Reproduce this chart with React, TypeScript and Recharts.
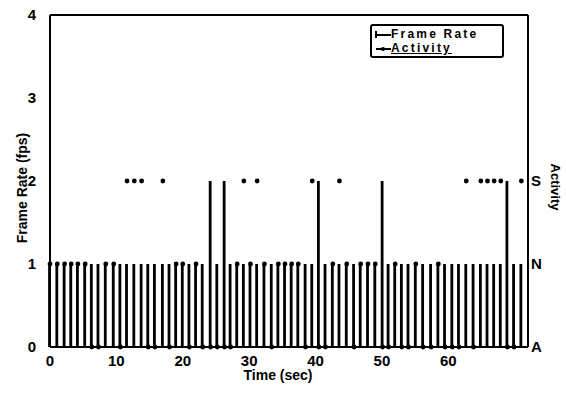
import React from "react";
import { ComposedChart, Bar, Scatter, XAxis, YAxis, Legend, ReferenceLine } from "recharts";

// time of each received frame (sec)
const frameTimes = [
  0.0, 1.1, 2.2, 3.2, 4.2, 5.3, 6.3, 7.3, 8.4, 9.6,
  10.6, 11.6, 12.7, 13.8, 14.8, 15.8, 17.0, 18.0, 19.0, 20.0,
  21.0, 22.0, 23.0, 24.2, 25.2, 26.3, 27.2, 28.2, 29.2, 30.2,
  31.2, 32.3, 33.4, 34.4, 35.4, 36.4, 37.4, 38.5, 39.5, 40.5,
  41.5, 42.6, 43.6, 44.7, 45.8, 46.8, 47.9, 49.0, 50.1, 51.0,
  52.0, 53.0, 54.0, 55.1, 56.2, 57.4, 58.5, 59.5, 60.6, 61.6,
  62.7, 63.8, 64.9, 65.9, 66.9, 67.9, 68.9, 69.9, 71.0,
];

// frame rate (fps) at each frame
const frameRates = [
  1, 1, 1, 1, 1, 1, 1, 1, 1, 1,
  1, 1, 1, 1, 1, 1, 1, 1, 1, 1,
  1, 1, 1, 2, 1, 2, 1, 1, 1, 1,
  1, 1, 1, 1, 1, 1, 1, 1, 1, 2,
  1, 1, 1, 1, 1, 1, 1, 1, 2, 1,
  1, 1, 1, 1, 1, 1, 1, 1, 1, 1,
  1, 1, 1, 1, 1, 1, 2, 1, 1,
];

// detected activity at each frame
const activity = [
  "N", "N", "N", "N", "N", "N", "A", "A", "N", "N",
  "A", "S", "S", "S", "A", "A", "S", "A", "N", "N",
  "A", "N", "A", "A", "A", "A", "A", "N", "S", "N",
  "S", "N", "A", "N", "N", "N", "N", "A", "S", "A",
  "A", "N", "S", "N", "A", "N", "N", "N", "A", "A",
  "N", "A", "A", "N", "A", "A", "N", "A", "A", "A",
  "S", "A", "S", "S", "S", "S", "A", "A", "S",
];

const activityLevels = ["A", "N", "S"];
const timeTicks = [0, 10, 20, 30, 40, 50, 60];
const rateTicks = [0, 1, 2, 3, 4];
const activityTicks = [0, 1, 2];

const data = frameTimes.map((t, i) => ({
  t,
  rate: frameRates[i],
  act: activityLevels.indexOf(activity[i]),
}));

const FONT = "'Liberation Sans', Arial, sans-serif";
const tickStyle = { fontFamily: FONT, fontWeight: 700, fontSize: 15, fill: "#000" };

const renderLegend = () => (
  <div
    style={{
      border: "2px solid #000",
      borderRadius: 3,
      background: "#fff",
      padding: "1px 3px",
      fontFamily: FONT,
      fontWeight: 700,
      fontSize: 12,
      lineHeight: "14px",
      letterSpacing: 2.2,
      width: 134,
      boxSizing: "border-box",
    }}
  >
    <div style={{ display: "flex", alignItems: "center", height: 14 }}>
      <svg width={16} height={12}>
        <line x1={1} y1={3} x2={1} y2={10} stroke="#000" strokeWidth={2} />
        <line x1={1} y1={7} x2={16} y2={7} stroke="#000" strokeWidth={2} />
      </svg>
      <span>Frame Rate</span>
    </div>
    <div style={{ display: "flex", alignItems: "center", height: 14 }}>
      <svg width={16} height={12}>
        <line x1={1} y1={7} x2={16} y2={7} stroke="#000" strokeWidth={2} />
        <circle cx={8} cy={7} r={2} fill="#000" />
      </svg>
      <span style={{ textDecoration: "underline" }}>Activity</span>
    </div>
  </div>
);

export default function App() {
  return (
    <div style={{ position: "absolute", left: 0, top: 0, background: "#fff" }}>
      <ComposedChart
        width={566}
        height={404}
        data={data}
        margin={{ top: 15, right: 0, bottom: 0, left: 0 }}
      >
        <XAxis
          dataKey="t"
          type="number"
          domain={[0, 72]}
          ticks={timeTicks}
          interval={0}
          height={57}
          tickSize={0}
          tickMargin={8}
          tick={tickStyle}
          axisLine={{ stroke: "#000", strokeWidth: 2 }}
          label={() => (
            <text
              x={278}
              y={380}
              textAnchor="middle"
              fontFamily={FONT}
              fontWeight={700}
              fontSize={14}
              fill="#000"
            >
              Time (sec)
            </text>
          )}
        />
        <YAxis
          yAxisId="rate"
          type="number"
          domain={[0, 4]}
          ticks={rateTicks}
          interval={0}
          width={50}
          tickSize={0}
          tickMargin={14}
          tick={tickStyle}
          axisLine={{ stroke: "#000", strokeWidth: 2 }}
          label={() => (
            <text
              x={22}
              y={188}
              transform="rotate(-90 22 188)"
              textAnchor="middle"
              dominantBaseline="central"
              fontFamily={FONT}
              fontWeight={700}
              fontSize={14}
              fill="#000"
            >
              Frame Rate (fps)
            </text>
          )}
        />
        <YAxis
          yAxisId="act"
          orientation="right"
          type="number"
          domain={[0, 4]}
          ticks={activityTicks}
          interval={0}
          width={38}
          tickSize={0}
          tickMargin={3}
          tick={tickStyle}
          tickFormatter={(v: number) => activityLevels[v]}
          axisLine={{ stroke: "#000", strokeWidth: 2 }}
          label={() => (
            <text
              x={555}
              y={187}
              transform="rotate(90 555 187)"
              textAnchor="middle"
              dominantBaseline="central"
              fontFamily={FONT}
              fontWeight={700}
              fontSize={13}
              fill="#000"
            >
              Activity
            </text>
          )}
        />
        <ReferenceLine yAxisId="rate" y={4} stroke="#000" strokeWidth={2} />
        <Bar
          yAxisId="rate"
          dataKey="rate"
          name="Frame Rate"
          barSize={3}
          fill="#000"
          isAnimationActive={false}
          shape={(p: any) => (
            <rect x={p.x + p.width / 2 - 1.4} y={p.y} width={2.8} height={p.height} fill="#000" />
          )}
        />
        <Scatter
          yAxisId="act"
          dataKey="act"
          name="Activity"
          fill="#000"
          isAnimationActive={false}
          shape={(p: any) => <circle cx={p.cx} cy={p.cy} r={2.4} fill="#000" />}
        />
        <Legend
          layout="vertical"
          align="center"
          verticalAlign="middle"
          content={renderLegend}
          wrapperStyle={{ left: 370, top: 24, width: 140 }}
        />
      </ComposedChart>
    </div>
  );
}
